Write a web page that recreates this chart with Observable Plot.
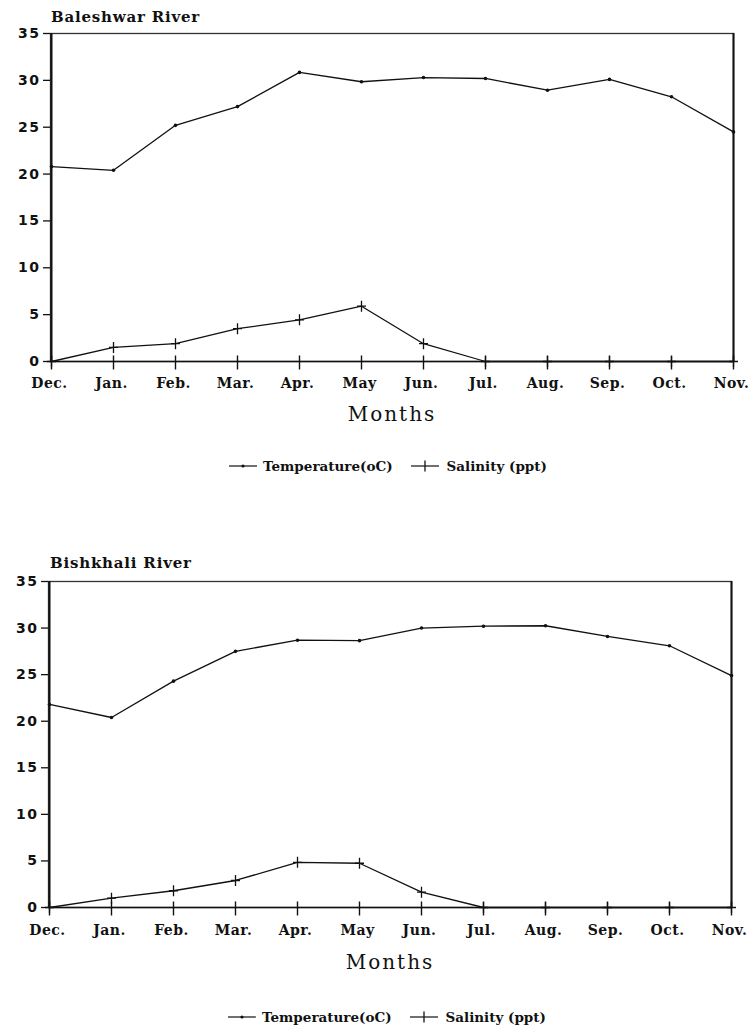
<!DOCTYPE html>
<html><head><meta charset="utf-8">
<script src="https://cdn.jsdelivr.net/npm/d3@7"></script>
<script src="https://cdn.jsdelivr.net/npm/@observablehq/plot@0.6"></script>
<style>
body{margin:0;background:#fff;}
#wrap{position:relative;width:754px;height:1035px;overflow:hidden;background:#fff;}
.plotbox{position:absolute;left:0;}
.title{position:absolute;font:bold 15px "DejaVu Serif";letter-spacing:0.8px;line-height:15px;color:#111;white-space:nowrap;}
.legend{position:absolute;font:bold 13.5px "DejaVu Serif";letter-spacing:0px;display:flex;align-items:center;height:20px;color:#111;white-space:nowrap;}
.legend svg{display:block;}
g[aria-label="y-axis tick label"] text{letter-spacing:1.5px;}
g[aria-label="x-axis tick label"] text{letter-spacing:0.5px;}
g[aria-label="text"] text{letter-spacing:2px;}
</style></head><body><div id="wrap"></div>
<script>
const months = ["Dec.","Jan.","Feb.","Mar.","Apr.","May","Jun.","Jul.","Aug.","Sep.","Oct.","Nov."];
const yTicks = [0,5,10,15,20,25,30,35];
const baleshwarTemp = [20.8,20.4,25.2,27.2,30.85,29.85,30.3,30.2,28.95,30.1,28.25,24.5];
const baleshwarSal  = [0,1.5,1.9,3.5,4.45,5.9,1.9,0,0,0,0,0];
const bishkhaliTemp = [21.8,20.4,24.3,27.5,28.7,28.65,30.0,30.2,30.25,29.1,28.1,24.9];
const bishkhaliSal  = [0,1.0,1.8,2.9,4.85,4.75,1.65,0,0,0,0,0];
const titles = ["Baleshwar River","Bishkhali River"];
const xLabel = "Months";
const legendLabels = ["Temperature(oC)","Salinity (ppt)"];

const plusSym = {draw(ctx){ctx.moveTo(-4.5,0);ctx.lineTo(4.5,0);ctx.moveTo(0,-5.5);ctx.lineTo(0,5.5);}};
const tickSym = {draw(ctx){ctx.moveTo(0,-6);ctx.lineTo(0,8);}};

function chart(temp, sal, o){
  const data = months.map((m,i)=>({month:m, temp:temp[i], sal:sal[i]}));
  return Plot.plot({
    width:754, height:o.height,
    marginLeft:o.ml, marginRight:o.mr, marginTop:o.mt, marginBottom:o.mb,
    style:{background:"transparent", overflow:"visible", color:"#111"},
    x:{type:"point", domain:months, padding:0, axis:null},
    y:{domain:[0,35], axis:null},
    marks:[
      Plot.frame({stroke:"#333", strokeWidth:1.3}),
      Plot.ruleX([months[0]], {stroke:"#111", strokeWidth:2}),
      Plot.ruleX([months[months.length-1]], {stroke:"#111", strokeWidth:2}),
      Plot.ruleY([0], {stroke:"#111", strokeWidth:1.6}),
      Plot.axisY({ticks:yTicks, tickSize:7, tickPadding:3, fontFamily:"DejaVu Sans", fontWeight:"bold", fontSize:14, label:null, stroke:"#111", strokeWidth:1.3}),
      Plot.axisX({ticks:months, tickSize:0, tickPadding:o.tp, fontFamily:"DejaVu Serif", fontWeight:"bold", fontSize:14, label:null, dx:-2}),
      Plot.dot(months, {x:d=>d, y:()=>0, symbol:tickSym, stroke:"#111", fill:"none", strokeWidth:1.4}),
      Plot.line(data, {x:"month", y:"temp", stroke:"#111", strokeWidth:1.3}),
      Plot.dot(data, {x:"month", y:"temp", r:1.8, fill:"#111", stroke:"none"}),
      Plot.line(data, {x:"month", y:"sal", stroke:"#111", strokeWidth:1.3}),
      Plot.dot(data, {x:"month", y:"sal", symbol:plusSym, stroke:"#111", fill:"none", strokeWidth:1.3}),
      Plot.text([xLabel], {text:d=>d, frameAnchor:"bottom", dy:o.ldy, fontFamily:"DejaVu Serif", fontSize:20})
    ]
  });
}

const wrap = document.getElementById("wrap");
function place(el, top){ const d=document.createElement("div"); d.className="plotbox"; d.style.top=top+"px"; d.appendChild(el); wrap.appendChild(d); }
function title(txt, left, top){ const d=document.createElement("div"); d.className="title"; d.textContent=txt; d.style.left=left+"px"; d.style.top=top+"px"; wrap.appendChild(d); }
function legend(left, top){
  const d=document.createElement("div"); d.className="legend"; d.style.left=left+"px"; d.style.top=top+"px";
  const ns="http://www.w3.org/2000/svg";
  function sym(kind){
    const s=document.createElementNS(ns,"svg"); s.setAttribute("width","28"); s.setAttribute("height","16");
    const l=document.createElementNS(ns,"path"); l.setAttribute("d","M0,8H28"); l.setAttribute("stroke","#111"); l.setAttribute("stroke-width","1.2"); s.appendChild(l);
    if(kind==="dot"){const c=document.createElementNS(ns,"circle"); c.setAttribute("cx","14"); c.setAttribute("cy","8"); c.setAttribute("r","1.6"); c.setAttribute("fill","#111"); s.appendChild(c);}
    else {const p=document.createElementNS(ns,"path"); p.setAttribute("d","M14,2.5V13.5"); p.setAttribute("stroke","#111"); p.setAttribute("stroke-width","1.3"); s.appendChild(p);}
    return s;
  }
  const t1=document.createElement("span"); t1.textContent=legendLabels[0]; t1.style.marginLeft="6px"; t1.style.marginRight="18px";
  const t2=document.createElement("span"); t2.textContent=legendLabels[1]; t2.style.marginLeft="8px";
  d.append(sym("dot"), t1, sym("plus"), t2);
  wrap.appendChild(d);
}

place(chart(baleshwarTemp, baleshwarSal, {height:440, ml:50, mr:21, mt:33, mb:79, tp:17, ldy:59}), 0);
place(chart(bishkhaliTemp, bishkhaliSal, {height:480, ml:48, mr:23, mt:61, mb:93, tp:18, ldy:61}), 520);
title(titles[0], 51, 10);
title(titles[1], 50, 556);
legend(229, 456);
legend(228, 1007);
</script></body></html>
